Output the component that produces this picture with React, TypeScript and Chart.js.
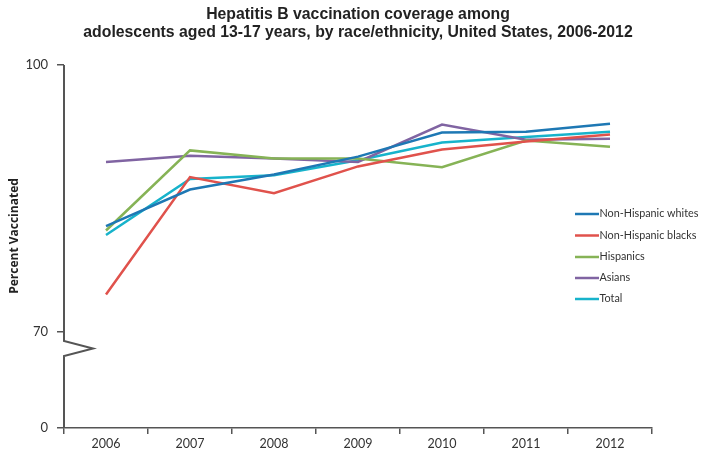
import React, { useEffect, useRef } from "react";
import { Chart, registerables } from "chart.js";

Chart.register(...registerables);

const years = ["2006", "2007", "2008", "2009", "2010", "2011", "2012"];
const whites = [81.9, 86.0, 87.7, 89.7, 92.4, 92.5, 93.4];
const blacks = [74.2, 87.4, 85.6, 88.6, 90.5, 91.4, 92.2];
const hispanics = [81.4, 90.4, 89.5, 89.5, 88.5, 91.5, 90.8];
const asians = [89.1, 89.8, 89.5, 89.1, 93.3, 91.6, 91.7];
const total = [80.9, 87.2, 87.6, 89.3, 91.3, 91.9, 92.5];
const seriesNames = ["Non-Hispanic whites", "Non-Hispanic blacks", "Hispanics", "Asians", "Total"];
const seriesColors = ["#1E78B4", "#E0524C", "#86B356", "#8064A2", "#17B3CB"];
const titleLines = [
  "Hepatitis B vaccination coverage among",
  "adolescents aged 13-17 years, by race/ethnicity, United States, 2006-2012",
];
const yTitle = "Percent Vaccinated";
const yMin = 59.2;
const yTickValues = [yMin, 70, 100];
const yTickLabels = ["0", "70", "100"];

const FONT = "Lato, 'Open Sans', sans-serif";

const decorPlugin = {
  id: "decor",
  afterDraw(chart: any) {
    const ctx = chart.ctx;
    const area = chart.chartArea;
    const y = chart.scales.y;
    ctx.save();
    // title
    ctx.fillStyle = "#222";
    ctx.font = "bold 15.8px 'Liberation Sans', Arial, sans-serif";
    ctx.textAlign = "center";
    ctx.textBaseline = "middle";
    ctx.fillText(titleLines[0], 358, 15);
    ctx.fillText(titleLines[1], 358, 33);
    // y title
    ctx.save();
    ctx.translate(15, 236);
    ctx.rotate(-Math.PI / 2);
    ctx.font = "bold 12px 'Open Sans', 'Noto Sans', sans-serif";
    ctx.fillText(yTitle, 0, 0);
    ctx.restore();
    // y axis line with break
    const x0 = area.left;
    const y70 = y.getPixelForValue(70);
    ctx.strokeStyle = "#555";
    ctx.lineWidth = 2;
    ctx.beginPath();
    ctx.moveTo(x0, area.top);
    ctx.lineTo(x0, y70 + 9);
    ctx.lineTo(x0 + 29, y70 + 16.5);
    ctx.lineTo(x0, y70 + 24);
    ctx.lineTo(x0, area.bottom);
    ctx.stroke();
    // legend
    ctx.font = "10.8px " + FONT;
    ctx.textAlign = "left";
    const rows = [214, 235.5, 257, 278, 299];
    seriesNames.forEach((n, i) => {
      ctx.strokeStyle = seriesColors[i];
      ctx.lineWidth = 2.5;
      ctx.beginPath();
      ctx.moveTo(575, rows[i]);
      ctx.lineTo(599, rows[i]);
      ctx.stroke();
      ctx.fillStyle = "#333";
      ctx.fillText(n, 599.5, rows[i]);
    });
    ctx.restore();
  },
};

export default function App() {
  const ref = useRef<HTMLCanvasElement>(null);
  useEffect(() => {
    document.body.style.margin = "0";
    const data = [whites, blacks, hispanics, asians, total];
    const chart = new Chart(ref.current!, {
      type: "line",
      data: {
        labels: years,
        datasets: data.map((d, i) => ({
          label: seriesNames[i],
          data: d,
          borderColor: seriesColors[i],
          backgroundColor: seriesColors[i],
          borderWidth: 2.5,
          pointRadius: 0,
          tension: 0,
        })),
      },
      options: {
        animation: false,
        responsive: false,
        layout: { padding: { left: 0, right: 52, top: 65, bottom: 0 } },
        plugins: { legend: { display: false }, title: { display: false }, tooltip: { enabled: false } },
        scales: {
          x: {
            offset: true,
            grid: { display: true, offset: true, drawOnChartArea: false, drawTicks: true, tickLength: 6, color: "#555", lineWidth: 1.5 },
            border: { display: true, color: "#555", width: 1.5 },
            ticks: { color: "#333", font: { size: 12.5, family: FONT }, padding: 2, maxRotation: 0 },
            afterFit: (s: any) => { s.height = 28; },
          },
          y: {
            min: yMin,
            max: 100,
            afterBuildTicks: (s: any) => { s.ticks = yTickValues.map((v) => ({ value: v })); },
            grid: { display: true, drawOnChartArea: false, drawTicks: true, tickLength: 7, color: "#555", lineWidth: 1.5 },
            border: { display: false },
            ticks: {
              color: "#333",
              padding: 9,
              font: { size: 13, family: FONT },
              callback: (v: any) => yTickLabels[yTickValues.indexOf(Number(v))] ?? "",
            },
            afterFit: (s: any) => { s.width = 64; },
          },
        },
      },
      plugins: [decorPlugin],
    });
    return () => chart.destroy();
  }, []);
  return <canvas ref={ref} width={704} height={456} style={{ display: "block" }} />;
}
